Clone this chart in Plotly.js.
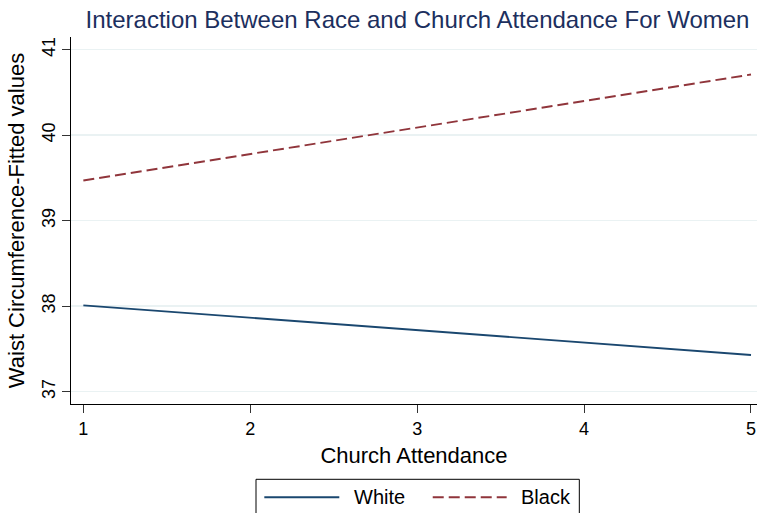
<!DOCTYPE html>
<html>
<head>
<meta charset="utf-8">
<script src="https://cdn.plot.ly/plotly-3.0.1.min.js"></script>
<style>html,body{margin:0;padding:0;background:#fff}#chart{width:757px;height:513px}</style>
</head>
<body>
<div id="chart"></div>
<script>
const attendance = [1, 2, 3, 4, 5];
const whiteFitted = [38.01, 37.865, 37.72, 37.575, 37.43];
const blackFitted = [39.47, 39.78, 40.09, 40.40, 40.71];
const yTicks = [37, 38, 39, 40, 41];
const xTicks = [1, 2, 3, 4, 5];
const seriesNames = ["White", "Black"];
const seriesColors = ["#1a476f", "#90353b"];
const seriesDash = ["solid", "11px,5px"];

const font = "Liberation Sans, Arial, Helvetica, sans-serif";

const traces = [
  {x: attendance, y: whiteFitted, name: seriesNames[0], type: "scatter", mode: "lines",
   line: {color: seriesColors[0], width: 1.9, dash: seriesDash[0]}},
  {x: attendance, y: blackFitted, name: seriesNames[1], type: "scatter", mode: "lines",
   line: {color: seriesColors[1], width: 1.9, dash: seriesDash[1]}}
];

// custom legend box (paper coordinates)
const legendBox = {x0: 0.2697, x1: 0.741, y0: -0.2052, y1: -0.31};
const legendY = -0.2542;
const sampleX = [[0.2818, 0.3911], [0.5273, 0.6351]];
const labelX = [0.4092, 0.6531];

const shapes = [
  {type: "rect", xref: "paper", yref: "paper", x0: legendBox.x0, x1: legendBox.x1,
   y0: legendBox.y0, y1: legendBox.y1, line: {color: "#000", width: 1}, fillcolor: "rgba(0,0,0,0)"}
];
const annotations = [];
seriesNames.forEach((n, i) => {
  shapes.push({type: "line", xref: "paper", yref: "paper", x0: sampleX[i][0], x1: sampleX[i][1],
               y0: legendY, y1: legendY, line: {color: seriesColors[i], width: 1.9, dash: seriesDash[i]}});
  annotations.push({xref: "paper", yref: "paper", x: labelX[i], y: legendY, xanchor: "left",
                    yanchor: "middle", showarrow: false, text: n,
                    font: {family: font, size: 20, color: "#000"}});
});

const layout = {
  width: 757, height: 513,
  paper_bgcolor: "#fff", plot_bgcolor: "#fff",
  font: {family: font, color: "#000"},
  margin: {l: 71, r: 0, t: 37, b: 109},
  showlegend: false,
  title: {text: "Interaction Between Race and Church Attendance For Women",
          font: {family: font, size: 24, color: "#1c2f5e"},
          x: 0.5515, xanchor: "center", y: 0.962, yanchor: "middle"},
  xaxis: {range: [0.926, 5.036], tickvals: xTicks, ticks: "outside", ticklen: 8,
          tickcolor: "#333", showline: true, linecolor: "#000", linewidth: 1,
          showgrid: false, zeroline: false, tickfont: {size: 18},
          title: {text: "Church Attendance", font: {size: 22}, standoff: 10}},
  yaxis: {range: [36.856, 41.149], tickvals: yTicks, ticks: "outside", ticklen: 8,
          tickcolor: "#333", showline: true, linecolor: "#000", linewidth: 1,
          showgrid: true, gridcolor: "#eaf2f3", gridwidth: 1.5, zeroline: false,
          tickangle: -90, tickfont: {size: 18},
          title: {text: "Waist Circumference-Fitted values", font: {size: 22}, standoff: 8}},
  shapes: shapes,
  annotations: annotations
};

Plotly.newPlot("chart", traces, layout, {displayModeBar: false, staticPlot: true});
</script>
</body>
</html>
